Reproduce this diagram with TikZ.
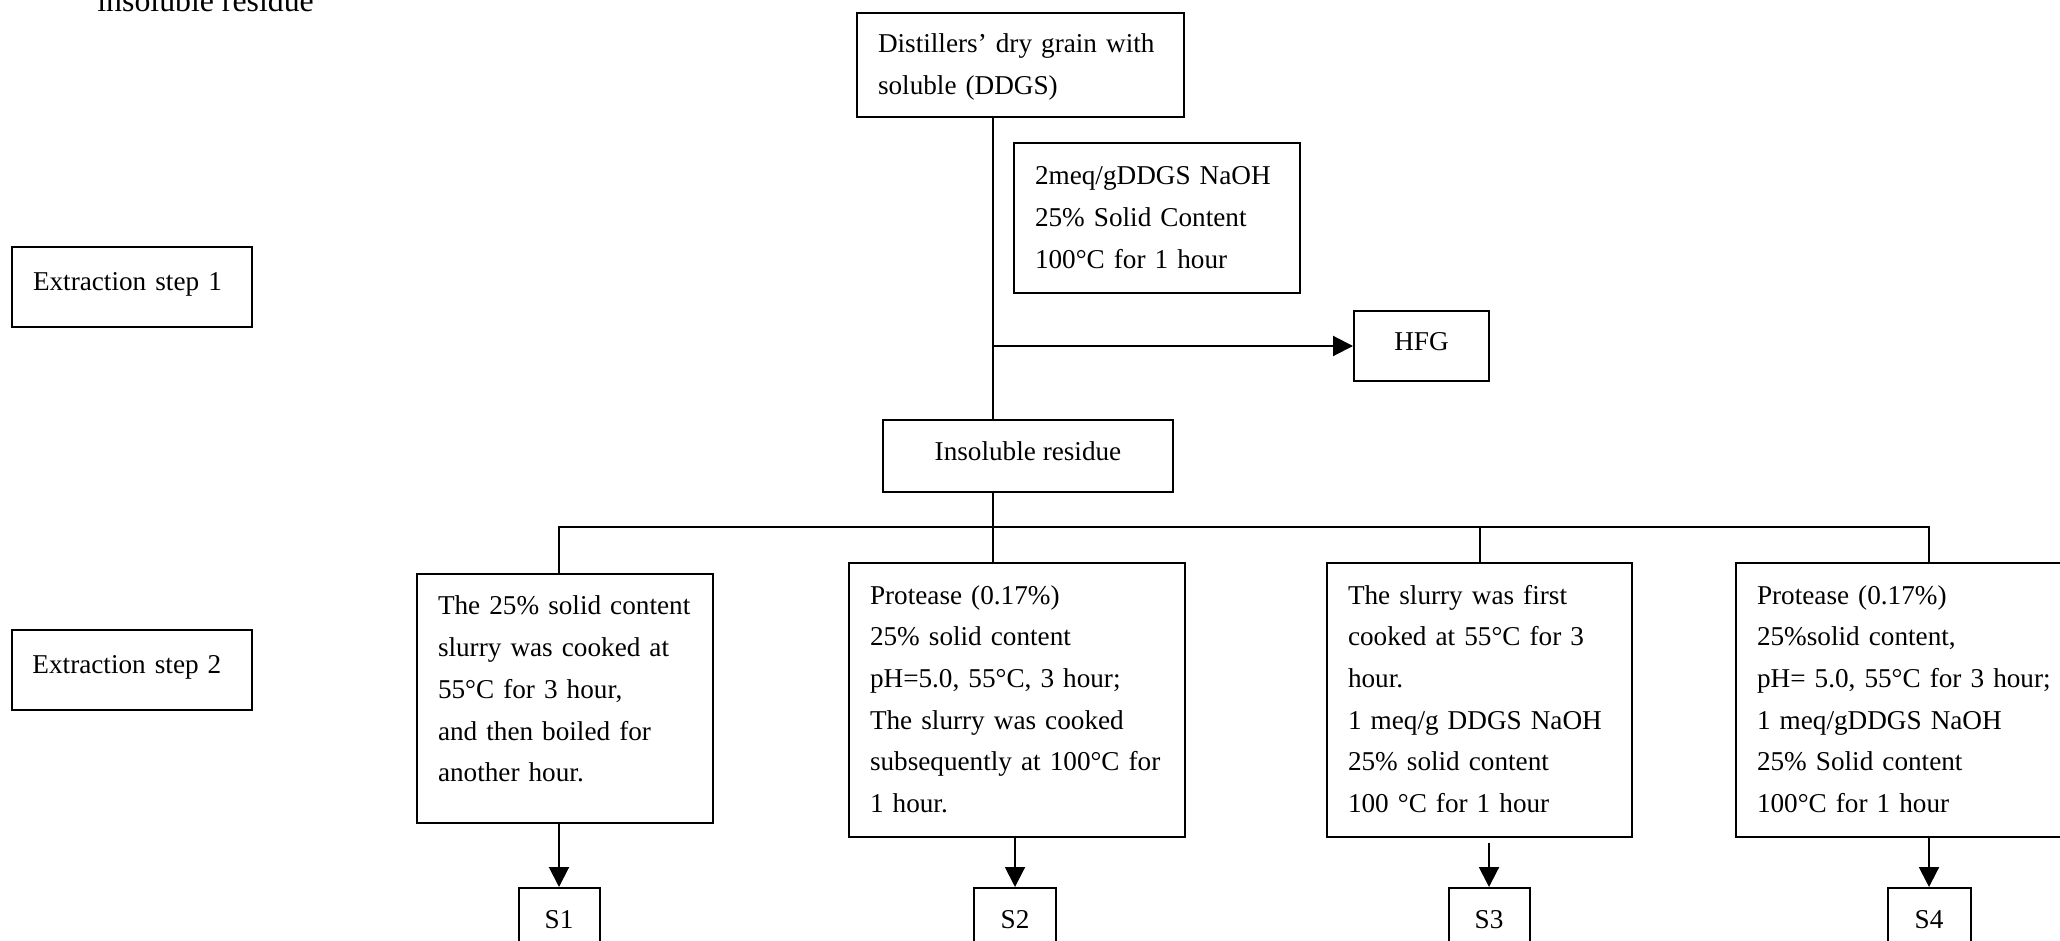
\documentclass[tikz,border=0pt]{standalone}
\usepackage{fontspec}
\setmainfont{Liberation Serif}
\usetikzlibrary{arrows.meta}
\setlength{\parindent}{0pt}

\begin{document}
\begin{tikzpicture}[
  x=0.5pt, y=-0.5pt,
  box/.style={draw, line width=1pt, inner xsep=10.5pt, inner ysep=0pt, align=left, font=\fontsize{13.6pt}{20.85pt}\selectfont},
  oneline/.style={box, text height=10pt, text depth=6pt},
  tag/.style={oneline, align=center, inner xsep=0pt},
  arr/.style={-{Triangle[length=10pt, width=10pt]}, line width=1pt},
  link/.style={line width=1pt}
]
\clip (0,0) rectangle (2060,941);

% heading cut by the top edge
\node[anchor=base west, inner sep=0pt, font=\fontsize{15.9pt}{19pt}\selectfont] (heading) at (97,12) {insoluble residue};

% step labels
\node[oneline, text width=99pt, minimum height=40pt] (step1) at (132,287) {Extraction step 1};
\node[oneline, text width=99pt, minimum height=40pt] (step2) at (131.5,669.5) {Extraction step 2};

% extraction step 1
\node[box, text width=142.5pt, minimum height=52pt] (ddgs) at (1020.5,65) {\begin{tabular}{@{}l@{}}Distillers’ dry grain with\\ soluble (DDGS)\end{tabular}};
\node[box, text width=122pt, minimum height=75pt] (naoh) at (1157,218) {\begin{tabular}{@{}l@{}}2meq/gDDGS NaOH\\ 25\% Solid Content\\ 100°C for 1 hour\end{tabular}};
\node[tag, minimum width=67.5pt, minimum height=35pt] (hfg) at (1421.5,346) {HFG};
\node[tag, minimum width=145pt, minimum height=36pt] (resid) at (1028,456) {Insoluble residue};

% extraction step 2
\node[box, text width=127pt, minimum height=124.5pt] (c1) at (565,698.5) {\begin{tabular}{@{}l@{}}The 25\% solid content\\ slurry was cooked at\\ 55°C for 3 hour,\\ and then boiled for\\ another hour.\\[8.5pt]\end{tabular}};
\node[box, text width=147pt, minimum height=137pt] (c2) at (1017,700) {\begin{tabular}{@{}l@{}}Protease (0.17\%)\\ 25\% solid content\\ pH=5.0, 55°C, 3 hour;\\ The slurry was cooked\\ subsequently at 100°C for\\ 1 hour.\end{tabular}};
\node[box, text width=131.5pt, minimum height=137pt] (c3) at (1479.5,700) {\begin{tabular}{@{}l@{}}The slurry was first\\ cooked at 55°C for 3\\ hour.\\ 1 meq/g DDGS NaOH\\ 25\% solid content\\ 100 °C for 1 hour\end{tabular}};
\node[box, text width=149pt, minimum height=137pt] (c4) at (1906,700) {\begin{tabular}{@{}l@{}}Protease (0.17\%)\\ 25\%solid content,\\ pH= 5.0, 55°C for 3 hour;\\ 1 meq/gDDGS NaOH\\ 25\% Solid content\\ 100°C for 1 hour\end{tabular}};

% samples
\node[tag, minimum width=40.5pt, minimum height=36pt] (s1) at (559,924) {S1};
\node[tag, minimum width=41pt, minimum height=36pt] (s2) at (1015,924) {S2};
\node[tag, minimum width=40.5pt, minimum height=36pt] (s3) at (1489,924) {S3};
\node[tag, minimum width=41.5pt, minimum height=36pt] (s4) at (1929,924) {S4};

\coordinate (fork) at (993,527);

% connectors
\draw[link] (ddgs.south -| fork) -- (resid.north -| fork);
\draw[arr] (hfg.west -| fork) -- (hfg.west);
\draw[link] (resid.south -| fork) -- (fork);
\draw[link] (c1.north -| s1.north) |- (fork) -| (c4.north -| s4.north);
\draw[link] (fork) -- (c2.north -| fork);
\draw[link] (c3.north |- fork) -- (c3.north);

\draw[arr] (c1.south -| s1.north) -- (s1.north);
\draw[arr] (c2.south -| s2.north) -- (s2.north);
\draw[arr, shorten <=2.5pt] (c3.south -| s3.north) -- (s3.north);
\draw[arr] (c4.south -| s4.north) -- (s4.north);

\end{tikzpicture}
\end{document}
